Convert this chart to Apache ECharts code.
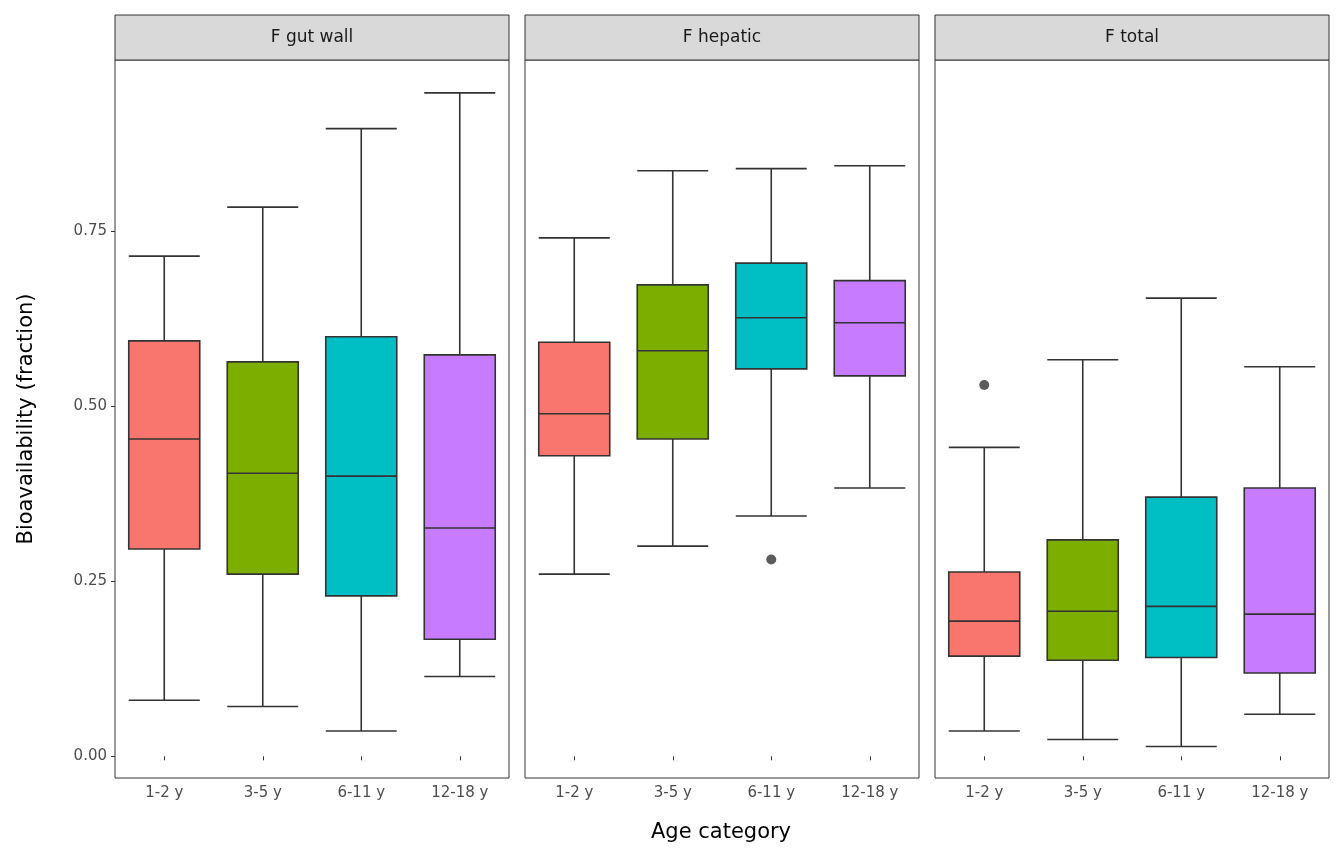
<!DOCTYPE html>
<html><head><meta charset="utf-8">
<script src="https://cdn.jsdelivr.net/npm/echarts@6/dist/echarts.min.js"></script>
<style>html,body{margin:0;padding:0;background:#fff}#c{width:1344px;height:864px}</style>
</head><body><div id="c"></div>
<script>
const categories = ['1-2 y','3-5 y','6-11 y','12-18 y'];
const panels = ['F gut wall','F hepatic','F total'];
const colors = ['#F8766D','#7CAE00','#00BFC4','#C77CFF'];
// [low, Q1, median, Q3, high]
const gutWall = [[0.080,0.296,0.453,0.593,0.714],[0.071,0.260,0.404,0.563,0.784],[0.036,0.229,0.400,0.599,0.896],[0.114,0.167,0.326,0.573,0.947]];
const hepatic = [[0.260,0.429,0.489,0.591,0.740],[0.300,0.453,0.579,0.673,0.836],[0.343,0.553,0.626,0.704,0.839],[0.383,0.543,0.619,0.679,0.843]];
const total = [[0.036,0.143,0.193,0.263,0.441],[0.024,0.137,0.207,0.309,0.566],[0.014,0.141,0.214,0.370,0.654],[0.060,0.119,0.203,0.383,0.556]];
const outliers = [[],[['6-11 y',0.281]],[['1-2 y',0.530]]];
const yTicks = [0,0.25,0.5,0.75];
const yMinor = [0.125,0.375,0.625,0.875];
const boxData = [gutWall, hepatic, total];

const lefts = [115,525,935], W = 394, TOP = 60, H = 718;
const grid = [], xAxis = [], yAxis = [], series = [], graphic = [];
panels.forEach((p,i)=>{
  grid.push({left:lefts[i], top:TOP, width:W, height:H, show:true, borderColor:'#333', borderWidth:1, backgroundColor:'#fff'});
  xAxis.push({type:'category', gridIndex:i, data:categories, axisLine:{show:false},
    axisTick:{show:true, alignWithLabel:true, length:4, lineStyle:{color:'#333'}},
    axisLabel:{color:'#4d4d4d', fontSize:15, margin:8, fontFamily:'DejaVu Sans'}, splitLine:{show:false}});
  yAxis.push({type:'value', gridIndex:i, min:-0.031, max:0.994, splitLine:{show:false},
    axisLine:{show:false}, axisTick:{show:i===0, length:4, lineStyle:{color:'#333'}, customValues:yTicks},
    axisLabel:{show:i===0, color:'#4d4d4d', fontSize:15, fontFamily:'DejaVu Sans', customValues:yTicks, formatter:v=>v.toFixed(2)}});
  const ml = [];
  yMinor.forEach(v=>ml.push({yAxis:v, lineStyle:{color:'#f2f2f2', width:0.8, type:'solid'}}));
  yTicks.forEach(v=>ml.push({yAxis:v, lineStyle:{color:'#ebebeb', width:1.4, type:'solid'}}));
  categories.forEach(c=>ml.push({xAxis:c, lineStyle:{color:'#ebebeb', width:1.4, type:'solid'}}));
  series.push({type:'boxplot', xAxisIndex:i, yAxisIndex:i, boxWidth:[71,71],
    data: boxData[i].map((d,k)=>({value:d, itemStyle:{color:colors[k], borderColor:'#333', borderWidth:1.6}})),
    markLine:{silent:true, symbol:'none', label:{show:false}, data:ml, z:-1},
    z:3});
  series.push({type:'scatter', xAxisIndex:i, yAxisIndex:i, data:outliers[i], symbolSize:10, itemStyle:{color:'#333'}, z:4});
  graphic.push({type:'rect', shape:{x:lefts[i], y:15, width:W, height:45}, style:{fill:'#d9d9d9', stroke:'#333', lineWidth:1}});
  graphic.push({type:'text', x:lefts[i]+W/2, y:38, style:{text:p, fill:'#1a1a1a', font:'17px DejaVu Sans', align:'center', verticalAlign:'middle'}});
});
graphic.push({type:'text', x:721, y:833, style:{text:'Age category', fill:'#000', font:'21px DejaVu Sans', align:'center', verticalAlign:'middle'}});
graphic.push({type:'text', x:27, y:419, rotation:Math.PI/2, style:{text:'Bioavailability (fraction)', fill:'#000', font:'21px DejaVu Sans', align:'center', verticalAlign:'middle'}});
const chart = echarts.init(document.getElementById('c'));
chart.setOption({animation:false, grid, xAxis, yAxis, series, graphic});
</script></body></html>
